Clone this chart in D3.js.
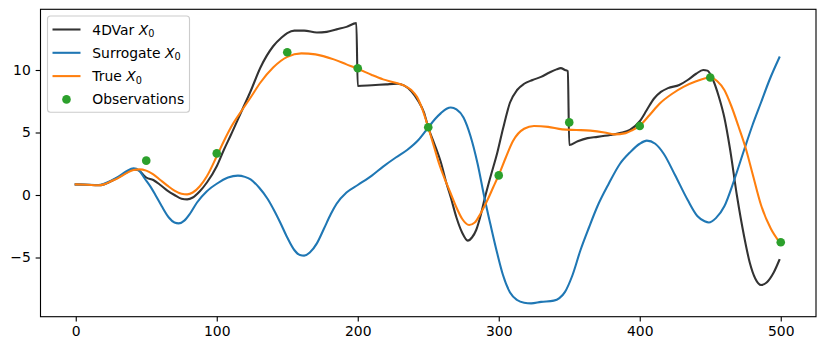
<!DOCTYPE html>
<html>
<head>
<meta charset="utf-8">
<script src="https://cdn.jsdelivr.net/npm/d3@7"></script>
<style>
  body { margin: 0; background: #fff; }
  svg { display: block; font-family: "DejaVu Sans", sans-serif; }
</style>
</head>
<body>
<svg id="chart" width="825" height="351"></svg>
<script>
// ---------- data ----------
const xTrue = [0,8,16,20,25,30,36,41,45,50,55,60,65,70,75,79,83,88,93,100,105,110,118,124,131,140,150,160,170,183,192,200,210,218,226,233,238,242,246,250,254,258,262,266,270,274,279,283,287,292,296,300,305,310,318,325,335,345,355,365,375,382,390,395,400,407,414,423,431,440,450,455,460,465,470,475,480,486,493,499];
const yTrue = [0.85,0.82,0.78,0.85,1.1,1.35,1.75,2.0,2.05,1.95,1.65,1.2,0.75,0.35,0.1,0.05,0.2,0.7,1.5,3.1,4.3,5.4,6.8,7.8,9.0,10.2,11.05,11.33,11.25,10.85,10.45,10.1,9.6,9.25,9.0,8.75,8.4,7.85,6.8,5.4,3.9,2.4,1.2,0.1,-1.0,-1.9,-2.4,-2.2,-1.5,-0.4,0.6,1.6,3.0,4.3,5.3,5.52,5.45,5.25,5.2,5.15,5.0,4.85,4.95,5.2,5.55,6.4,7.3,8.1,8.65,9.1,9.4,9.1,8.4,7.1,5.5,3.8,1.7,-0.8,-2.7,-3.75];

const xVar = [0,8,16,20,25,30,36,41,45,48,50,55,60,65,70,75,79,83,88,93,100,105,110,118,124,131,140,146,150,155,162,171,178,185,192,199,200,210,220,228,233,238,243,247,250,254,259,263,266,270,274,278,281,284,287,290,294,299,303,308,313,318,324,330,336,341,344,347,349,350,356,363,370,379,386,393,400,405,410,415,420,428,434,440,445,448,452,456,460,464,469,474,478,482,486,490,495,499];
const yVar = [0.85,0.82,0.78,0.85,1.1,1.4,1.8,2.05,1.95,1.6,1.4,1.2,0.8,0.35,0.0,-0.3,-0.35,-0.2,0.3,1.0,2.3,3.6,4.8,6.8,8.3,10.2,11.9,12.6,12.95,13.15,13.15,13.0,13.05,13.25,13.45,13.75,8.72,8.78,8.85,8.9,8.75,8.3,7.5,6.6,5.4,4.2,2.6,0.9,-0.2,-1.8,-3.0,-3.65,-3.4,-2.8,-1.7,-0.3,1.4,3.4,5.3,7.4,8.4,8.9,9.2,9.45,9.8,10.05,10.15,10.0,9.9,4.0,4.3,4.55,4.65,4.8,4.95,5.2,5.9,6.8,7.7,8.25,8.55,8.8,9.2,9.7,10.0,9.95,9.2,7.9,6.2,3.7,-0.1,-3.3,-5.4,-6.7,-7.2,-7.0,-6.2,-5.2];

const xSur = [0,8,16,20,25,30,36,41,45,49,53,57,61,66,70,73,77,81,86,93,100,108,115,120,124,130,136,141,145,150,155,159,162,166,171,176,181,185,192,200,210,218,227,235,243,250,255,259,263,266,270,275,280,285,290,294,299,303,308,313,318,323,330,339,343,347,352,358,364,370,378,386,393,400,405,411,417,425,434,441,446,449,454,460,467,474,480,486,492,499];
const ySur = [0.85,0.82,0.8,0.9,1.15,1.45,1.9,2.13,1.95,1.3,0.67,-0.1,-0.9,-1.8,-2.2,-2.27,-2.05,-1.5,-0.6,0.3,0.9,1.4,1.55,1.45,1.25,0.6,-0.3,-1.3,-2.2,-3.4,-4.4,-4.8,-4.85,-4.6,-3.87,-2.7,-1.5,-0.7,0.2,0.8,1.55,2.27,3.0,3.6,4.4,5.4,6.1,6.55,6.9,7.0,6.85,6.2,4.7,2.5,-0.3,-2.3,-4.7,-6.4,-7.8,-8.4,-8.62,-8.67,-8.55,-8.45,-8.25,-7.75,-6.5,-4.4,-2.6,-0.9,0.9,2.5,3.4,4.1,4.35,4.1,3.3,1.6,-0.4,-1.7,-2.1,-2.2,-1.85,-0.9,1.2,3.6,5.6,7.4,9.2,11.0];

const xObs = [50,100,150,200,250,300,350,400,450,500];
const yObs = [2.75,3.33,11.42,10.14,5.42,1.57,5.81,5.52,9.40,-3.78];

const xTicks = [0,100,200,300,400,500];
const yTicks = [-5,0,5,10];

const seriesNames = ["4DVar", "Surrogate", "True", "Observations"];
const colors = {var: "#333333", sur: "#1f77b4", tru: "#ff7f0e", obs: "#2ca02c"};

// ---------- layout ----------
const svg = d3.select("#chart");
const L = 40.5, R = 816, T = 9.3, B = 316.7;
const x = d3.scaleLinear().domain([-25, 525]).range([L, R]);
const y = d3.scaleLinear().domain([-9.736, 14.856]).range([B, T]);

const line = d3.line().x(d => x(d[0])).y(d => y(d[1])).curve(d3.curveMonotoneX);

const clip = svg.append("clipPath").attr("id", "clip")
  .append("rect").attr("x", L).attr("y", T).attr("width", R - L).attr("height", B - T);
const plot = svg.append("g").attr("clip-path", "url(#clip)");

function drawLine(xs, ys, color) {
  plot.append("path")
    .datum(xs.map((v, i) => [v, ys[i]]))
    .attr("fill", "none")
    .attr("stroke", color)
    .attr("stroke-width", 2.08)
    .attr("stroke-linejoin", "round")
    .attr("stroke-linecap", "square")
    .attr("d", line);
}
drawLine(xVar, yVar, colors.var);
drawLine(xSur, ySur, colors.sur);
drawLine(xTrue, yTrue, colors.tru);

plot.selectAll("circle.obs")
  .data(xObs.map((v, i) => [v, yObs[i]]))
  .enter().append("circle")
  .attr("class", "obs")
  .attr("cx", d => x(d[0])).attr("cy", d => y(d[1]))
  .attr("r", 4.3).attr("fill", colors.obs);

// ---------- axes ----------
const fs = 13.9;
const xAxis = d3.axisBottom(x).tickValues(xTicks).tickSize(4.86).tickPadding(4.86).tickFormat(d3.format("d"));
const gx = svg.append("g").attr("transform", `translate(0,${B})`).call(xAxis);
const yAxis = d3.axisLeft(y).tickValues(yTicks).tickSize(4.86).tickPadding(4.86)
  .tickFormat(d => d < 0 ? "\u2212" + Math.abs(d) : String(d));
const gy = svg.append("g").attr("transform", `translate(${L},0)`).call(yAxis);
[gx, gy].forEach(g => {
  g.select(".domain").remove();
  g.selectAll(".tick line").attr("stroke", "#000").attr("stroke-width", 1.11);
  g.selectAll(".tick text").attr("fill", "#000").style("font-size", fs + "px")
    .style("font-family", "DejaVu Sans");
});

svg.append("rect").attr("x", L).attr("y", T).attr("width", R - L).attr("height", B - T)
  .attr("fill", "none").attr("stroke", "#000").attr("stroke-width", 1.11);

// ---------- legend ----------
const lg = svg.append("g");
lg.append("rect").attr("x", 47.5).attr("y", 16).attr("width", 142).attr("height", 96.3)
  .attr("rx", 3).attr("fill", "#fff").attr("fill-opacity", 0.8)
  .attr("stroke", "#cccccc").attr("stroke-width", 1.11);
const rowY = i => 29.5 + i * 23.3;
const legendItems = [
  {name: seriesNames[0], color: colors.var, type: "line", sub: true},
  {name: seriesNames[1], color: colors.sur, type: "line", sub: true},
  {name: seriesNames[2], color: colors.tru, type: "line", sub: true},
  {name: seriesNames[3], color: colors.obs, type: "dot", sub: false}
];
legendItems.forEach((it, i) => {
  const cy = rowY(i);
  if (it.type === "line") {
    lg.append("line").attr("x1", 52.5).attr("x2", 80.5).attr("y1", cy).attr("y2", cy)
      .attr("stroke", it.color).attr("stroke-width", 2.08);
  } else {
    lg.append("circle").attr("cx", 66.5).attr("cy", cy).attr("r", 4.3).attr("fill", it.color);
  }
  const t = lg.append("text").attr("x", 92.3).attr("y", cy + 5)
    .style("font-size", fs + "px").attr("fill", "#000");
  t.append("tspan").text(it.name + (it.sub ? " " : ""));
  if (it.sub) {
    t.append("tspan").style("font-style", "italic").text("X");
    t.append("tspan").attr("dy", 2.6).style("font-size", (fs * 0.7) + "px").text("0");
  }
});
</script>
</body>
</html>
